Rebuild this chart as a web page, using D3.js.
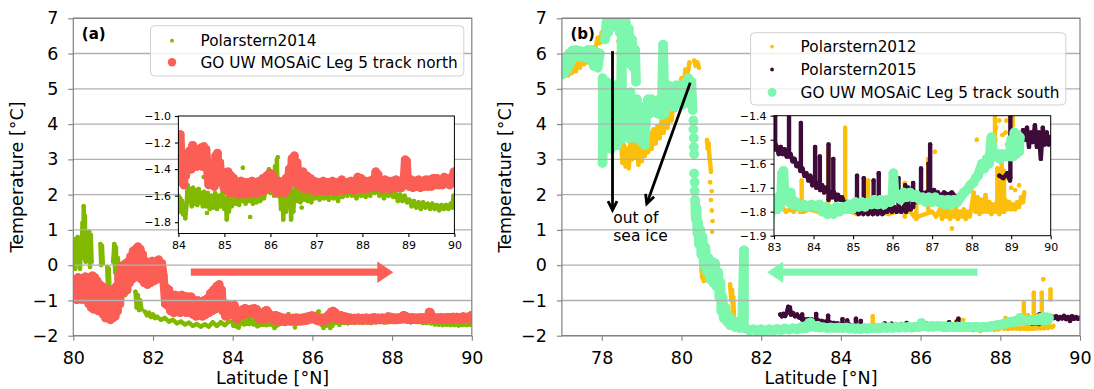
<!DOCTYPE html>
<html>
<head>
<meta charset="utf-8">
<script src="https://cdn.jsdelivr.net/npm/d3@7"></script>
<style>
  body { margin: 0; background: #fff; }
  svg { display: block; }
  text { font-family: "DejaVu Sans", sans-serif; fill: #000; }
</style>
</head>
<body>
<svg id="chart" width="1094" height="389"></svg>
<script>
// ---------- data: [latitude °N, temperature °C]; null breaks a track ----------
const polarstern2014 = [
  [80.01,0.1],[80.03,0.6],[80.05,-0.1],[80.07,0.75],[80.09,0.15],[80.11,0.8],[80.13,0.2],[80.15,0.55],[80.17,-0.1],[80.19,0.7],[80.21,0.3],[80.23,1.2],[80.25,0.2],[80.26,1.67],[80.28,0.5],[80.29,1.4],[80.31,0.1],[80.33,0.7],
  null,[80.38,0.2],[80.4,0.95],[80.42,-0.05],[80.44,0.85],[80.46,0.1],
  null,[80.68,0.6],[80.7,0.0],[80.72,0.55],[80.74,0.05],
  null,[80.85,-0.05],[80.87,-0.65],[80.89,-0.1],[80.91,-0.7],
  null,[81.0,0.1],[81.03,0.6],[81.05,-0.2],[81.07,0.5],[81.09,-0.4],[81.12,0.2],[81.15,-0.45],
  null,[81.21,-0.45],[81.24,-0.8],[81.27,-0.5],[81.3,-0.85],
  null,[81.56,-0.75],[81.59,-1.2],[81.62,-0.85],[81.65,-1.27],[81.68,-1.0],[81.71,-1.25],
  null,[81.8,-1.32],[81.85,-1.42],[81.9,-1.35],[81.95,-1.47],[82.0,-1.4],[82.05,-1.5],[82.1,-1.46],[82.2,-1.55],[82.3,-1.5],[82.4,-1.6],[82.5,-1.55],[82.6,-1.65],[82.7,-1.6],[82.8,-1.68],[82.9,-1.63],[83.0,-1.72],[83.1,-1.67],[83.2,-1.74],[83.3,-1.68],[83.4,-1.74],[83.5,-1.62],[83.6,-1.72],[83.7,-1.62],[83.8,-1.7],[83.9,-1.6],
  [84.0,-1.6],[84.02,-1.72],[84.04,-1.62],[84.06,-1.7],[84.08,-1.64],[84.1,-1.74],[84.13,-1.68],[84.15,-1.77],[84.18,-1.66],
  [84.2,-1.52],[84.23,-1.64],[84.26,-1.55],[84.29,-1.68],[84.32,-1.54],[84.35,-1.66],[84.38,-1.56],[84.41,-1.67],[84.44,-1.55],[84.47,-1.65],[84.5,-1.58],[84.53,-1.68],
  [84.56,-1.57],[84.6,-1.68],[84.64,-1.58],[84.68,-1.7],[84.72,-1.6],[84.76,-1.69],[84.8,-1.58],[84.84,-1.7],[84.88,-1.6],[84.92,-1.68],[84.96,-1.57],[85.0,-1.7],
  [85.03,-1.62],[85.05,-1.78],[85.07,-1.64],[85.1,-1.72],
  [85.13,-1.58],[85.16,-1.68],[85.2,-1.57],[85.24,-1.66],[85.28,-1.56],[85.32,-1.67],[85.35,-1.58],
  [85.38,-1.64],[85.42,-1.55],[85.46,-1.66],[85.5,-1.56],[85.54,-1.64],[85.58,-1.55],[85.62,-1.66],[85.66,-1.57],[85.7,-1.65],[85.74,-1.56],[85.78,-1.64],[85.82,-1.54],[85.86,-1.62],[85.9,-1.55],
  [85.95,-1.45],[85.97,-1.4],[86.0,-1.58],[86.04,-1.5],[86.08,-1.6],[86.1,-1.38],[86.12,-1.56],[86.14,-1.33],[86.16,-1.6],
  [86.2,-1.5],[86.23,-1.7],[86.26,-1.55],[86.28,-1.78],[86.31,-1.58],[86.34,-1.72],[86.37,-1.52],[86.4,-1.68],[86.43,-1.56],[86.45,-1.78],[86.48,-1.6],[86.5,-1.72],
  [86.53,-1.5],[86.57,-1.64],[86.61,-1.52],[86.65,-1.65],[86.69,-1.49],[86.73,-1.63],[86.77,-1.5],[86.81,-1.64],[86.85,-1.52],[86.89,-1.65],[86.93,-1.55],
  [86.97,-1.62],[87.02,-1.56],[87.07,-1.63],[87.12,-1.57],[87.17,-1.62],[87.22,-1.56],[87.27,-1.63],[87.32,-1.57],[87.37,-1.62],[87.42,-1.56],[87.47,-1.64],
  [87.52,-1.55],[87.57,-1.61],[87.62,-1.54],[87.67,-1.6],[87.72,-1.53],[87.77,-1.6],[87.82,-1.55],[87.87,-1.62],[87.92,-1.54],[87.97,-1.6],[88.02,-1.55],[88.07,-1.61],[88.12,-1.54],[88.17,-1.6],[88.22,-1.54],
  [88.27,-1.58],[88.32,-1.52],[88.37,-1.6],[88.42,-1.53],[88.47,-1.62],[88.52,-1.55],[88.57,-1.6],[88.62,-1.52],[88.67,-1.61],
  [88.72,-1.58],[88.77,-1.64],[88.82,-1.59],[88.87,-1.64],[88.92,-1.6],[88.97,-1.65],
  [89.02,-1.63],[89.07,-1.68],[89.12,-1.64],[89.17,-1.69],[89.22,-1.65],[89.27,-1.7],[89.32,-1.65],[89.37,-1.69],[89.42,-1.66],[89.47,-1.7],[89.52,-1.66],[89.57,-1.7],[89.62,-1.67],[89.67,-1.71],
  [89.72,-1.67],[89.77,-1.7],[89.82,-1.67],[89.87,-1.7],[89.92,-1.66],[89.96,-1.69],[89.98,-1.6],[90.0,-1.64],
  null,[85.4,-1.39],null,[85.56,-1.76],null,[86.16,-1.31],null,[86.68,-1.69],null,[84.55,-1.46],null,[84.62,-1.73]
];

const mosaicNorth = [
  [80.0,-0.45],[80.03,-0.95],[80.06,-0.4],[80.09,-0.98],[80.12,-0.35],[80.15,-0.92],[80.18,-0.4],[80.21,-0.97],[80.24,-0.38],[80.27,-0.9],[80.3,-0.33],[80.33,-1.0],[80.36,-0.35],[80.39,-1.1],[80.42,-0.4],[80.45,-1.2],[80.48,-0.3],[80.51,-1.25],[80.54,-0.35],[80.57,-1.15],[80.6,-0.45],[80.63,-1.3],[80.66,-0.55],[80.69,-1.2],[80.72,-0.6],
  [80.75,-1.4],[80.78,-0.65],[80.81,-1.5],[80.84,-0.7],[80.87,-1.45],[80.9,-0.75],[80.93,-1.55],[80.96,-0.7],[80.99,-1.5],[81.02,-0.8],[81.05,-1.45],[81.08,-0.6],[81.11,-1.3],[81.14,-0.3],[81.17,-1.1],
  [81.2,-0.05],[81.23,-0.8],[81.26,0.0],[81.29,-0.75],[81.32,0.05],[81.35,-0.7],[81.38,0.1],
  [81.41,-0.5],[81.44,0.25],[81.47,-0.4],[81.5,0.4],[81.53,-0.35],[81.56,0.45],[81.59,-0.2],[81.62,0.52],[81.65,-0.3],[81.68,0.45],[81.71,-0.4],[81.74,0.3],
  [81.78,-0.5],[81.82,0.1],[81.86,-0.55],[81.9,0.05],[81.94,-0.5],[81.98,0.12],[82.02,-0.45],[82.06,0.05],[82.1,-0.4],[82.14,0.15],[82.18,-0.35],[82.22,0.05],[82.26,-0.3],
  [82.28,-0.6],[82.31,-1.1],[82.34,-0.65],[82.37,-1.15],[82.4,-0.7],
  [82.44,-1.3],[82.48,-0.85],[82.52,-1.35],[82.56,-0.85],[82.6,-1.3],[82.64,-0.9],[82.68,-1.35],[82.72,-0.85],[82.76,-1.3],[82.8,-0.88],[82.84,-1.35],[82.88,-0.9],[82.92,-1.32],[82.96,-0.9],
  [83.0,-1.4],[83.04,-1.0],[83.08,-1.45],[83.12,-1.0],[83.16,-1.42],[83.2,-1.05],[83.24,-1.45],[83.28,-1.0],[83.32,-1.4],
  [83.36,-0.95],[83.4,-1.35],[83.44,-0.8],[83.48,-1.3],[83.52,-0.7],[83.56,-1.25],[83.6,-0.6],[83.63,-1.15],[83.66,-0.55],[83.69,-1.2],[83.72,-0.7],[83.75,-1.3],
  [83.78,-1.08],[83.82,-1.45],[83.86,-1.1],[83.9,-1.42],[83.94,-1.15],[83.98,-1.4],
  [84.0,-1.15],[84.02,-1.35],[84.04,-1.14],[84.06,-1.3],
  [84.08,-1.5],[84.1,-1.28],[84.12,-1.52],[84.14,-1.3],[84.16,-1.45],
  [84.19,-1.3],[84.22,-1.38],[84.25,-1.26],[84.28,-1.4],[84.31,-1.22],[84.34,-1.37],[84.37,-1.25],[84.4,-1.38],[84.43,-1.27],[84.46,-1.36],[84.49,-1.24],[84.52,-1.38],[84.55,-1.23],[84.58,-1.32],[84.6,-1.25],
  [84.63,-1.4],[84.66,-1.52],[84.69,-1.38],[84.72,-1.5],[84.75,-1.42],[84.78,-1.53],
  [84.81,-1.3],[84.83,-1.46],[84.85,-1.28],[84.87,-1.48],[84.9,-1.35],
  [84.93,-1.5],[84.96,-1.42],[84.99,-1.54],[85.02,-1.45],[85.05,-1.56],
  [85.08,-1.42],[85.11,-1.58],[85.14,-1.45],[85.17,-1.57],[85.2,-1.47],
  [85.24,-1.58],[85.28,-1.5],[85.32,-1.59],[85.36,-1.49],[85.4,-1.58],[85.44,-1.5],[85.48,-1.59],[85.52,-1.5],[85.56,-1.57],[85.6,-1.49],[85.64,-1.58],[85.68,-1.5],[85.72,-1.58],[85.76,-1.49],[85.8,-1.57],[85.84,-1.47],[85.88,-1.56],
  [85.92,-1.45],[85.95,-1.53],[85.98,-1.43],[86.01,-1.52],[86.04,-1.44],[86.07,-1.55],
  [86.1,-1.5],[86.14,-1.58],[86.18,-1.49],[86.22,-1.57],[86.26,-1.5],[86.3,-1.58],[86.34,-1.47],
  [86.38,-1.55],[86.41,-1.4],[86.44,-1.5],[86.47,-1.32],[86.5,-1.45],[86.52,-1.3],[86.55,-1.48],[86.58,-1.35],[86.61,-1.52],[86.64,-1.42],
  [86.67,-1.53],[86.71,-1.42],[86.75,-1.55],[86.79,-1.45],[86.83,-1.54],[86.87,-1.47],[86.91,-1.56],
  [86.95,-1.49],[87.0,-1.57],[87.05,-1.5],[87.1,-1.56],[87.15,-1.49],[87.2,-1.57],[87.25,-1.5],[87.3,-1.56],[87.35,-1.49],[87.4,-1.57],[87.45,-1.5],[87.5,-1.56],[87.55,-1.48],[87.6,-1.56],[87.65,-1.5],[87.7,-1.55],[87.75,-1.49],[87.8,-1.56],[87.85,-1.5],
  [87.9,-1.46],[87.94,-1.55],[87.97,-1.47],
  [88.02,-1.55],[88.06,-1.49],[88.1,-1.55],[88.14,-1.49],[88.18,-1.54],[88.22,-1.48],[88.26,-1.53],[88.29,-1.42],[88.31,-1.5],[88.34,-1.44],[88.37,-1.54],[88.41,-1.49],[88.45,-1.55],[88.49,-1.48],[88.53,-1.54],[88.57,-1.49],[88.61,-1.55],[88.65,-1.49],[88.69,-1.53],[88.73,-1.48],[88.77,-1.54],[88.81,-1.49],[88.85,-1.54],[88.89,-1.48],
  [88.91,-1.45],[88.93,-1.33],[88.95,-1.47],[88.96,-1.34],[88.98,-1.48],
  [89.02,-1.53],[89.06,-1.48],[89.1,-1.54],[89.14,-1.49],[89.18,-1.53],[89.22,-1.48],[89.26,-1.54],[89.3,-1.49],[89.34,-1.53],[89.38,-1.48],[89.42,-1.53],[89.46,-1.48],[89.5,-1.53],[89.54,-1.47],[89.58,-1.52],[89.62,-1.47],[89.66,-1.52],
  [89.7,-1.48],[89.74,-1.52],[89.78,-1.46],[89.82,-1.51],[89.86,-1.47],[89.9,-1.52],[89.94,-1.46],[89.97,-1.5],[89.99,-1.42],[90.0,-1.48]
];

const polarstern2012 = [
  [77.0,5.45],[77.04,5.7],[77.08,5.4],[77.12,5.65],[77.16,5.38],[77.2,5.6],[77.25,5.45],[77.3,5.7],[77.35,5.5],[77.4,5.8],[77.45,5.6],[77.5,5.9],[77.55,5.7],[77.6,5.95],[77.65,5.75],[77.7,6.0],[77.75,5.8],[77.8,6.05],[77.85,6.2],[77.9,6.45],[77.95,6.3],[78.0,6.6],[78.05,6.5],[78.1,6.75],[78.15,6.6],[78.2,6.85],[78.25,6.7],[78.3,6.9],[78.35,6.75],[78.4,6.85],[78.45,6.7],
  null,[78.42,6.35],null,[78.42,6.0],null,[78.43,5.7],null,[78.43,5.4],null,[78.44,5.1],null,
  [78.48,3.5],[78.52,2.9],[78.56,3.4],[78.6,2.8],[78.64,3.3],[78.68,2.75],[78.72,3.45],[78.76,3.0],[78.8,3.6],[78.84,3.05],[78.88,3.4],[78.92,2.85],[78.96,3.5],[79.0,2.95],[79.04,3.55],[79.08,3.1],[79.12,3.7],[79.16,3.2],[79.2,3.75],[79.25,3.3],[79.3,3.85],[79.35,3.45],[79.4,3.95],[79.45,3.6],[79.5,4.1],[79.55,3.75],[79.6,4.2],[79.65,3.9],[79.7,4.3],[79.75,4.1],[79.8,4.6],[79.85,4.4],[79.9,4.95],[79.95,4.7],[80.0,5.3],[80.05,5.1],[80.1,5.55],[80.15,5.4],[80.2,5.75],
  null,[80.32,5.8],[80.36,5.65],[80.4,5.75],[80.44,5.6],
  null,[80.64,3.55],[80.66,3.3],[80.68,3.45],[80.7,3.1],[80.72,2.9],[80.74,2.65],
  null,[80.72,2.35],null,[80.76,2.1],null,[80.74,1.85],null,[80.76,1.55],null,[80.78,1.25],null,[80.77,0.95],
  null,[80.5,-0.1],[80.52,-0.35],[80.54,-0.2],[80.56,-0.45],
  null,[81.22,-0.55],[81.25,-1.0],[81.27,-0.7],[81.29,-1.3],[81.3,-0.9],[81.32,-1.5],
  null,[81.5,-1.75],[81.7,-1.8],[81.9,-1.78],[82.1,-1.82],[82.3,-1.79],[82.5,-1.8],[82.7,-1.78],[82.9,-1.8],
  [83.0,-1.79],[83.1,-1.8],[83.2,-1.78],[83.3,-1.8],[83.4,-1.79],[83.5,-1.8],[83.6,-1.78],[83.66,-1.8],
  [83.75,-1.8],[83.9,-1.79],[84.1,-1.8],[84.3,-1.79],[84.5,-1.8],[84.65,-1.79],[84.95,-1.8],[85.1,-1.81],[85.25,-1.8],[85.5,-1.81],[85.7,-1.8],[85.9,-1.81],[86.1,-1.8],[86.45,-1.8],[86.55,-1.82],[86.65,-1.82],[87.0,-1.8],[87.1,-1.82],
  [87.2,-1.79],[87.25,-1.83],[87.3,-1.78],[87.35,-1.82],[87.4,-1.79],[87.45,-1.83],[87.5,-1.8],[87.55,-1.82],[87.6,-1.78],[87.65,-1.83],[87.7,-1.8],[87.75,-1.82],[87.8,-1.79],[87.85,-1.83],[87.9,-1.8],[87.95,-1.82],
  [88.0,-1.78],[88.05,-1.72],[88.1,-1.8],[88.15,-1.74],[88.2,-1.81],[88.25,-1.75],[88.3,-1.8],[88.35,-1.73],
  [88.4,-1.8],[88.45,-1.76],[88.5,-1.81],[88.55,-1.77],[88.6,-1.8],[88.65,-1.75],[88.7,-1.81],[88.75,-1.76],[88.8,-1.8],[88.85,-1.75],[88.9,-1.79],[88.95,-1.76],[89.0,-1.79],[89.05,-1.77],[89.1,-1.79],[89.15,-1.76],[89.2,-1.78],[89.25,-1.74],[89.3,-1.76],[89.33,-1.72],
  null,[83.7,-1.67],[83.7,-1.79],null,[84.37,-1.54],[84.37,-1.79],null,[84.8,-1.45],[84.8,-1.79],null,[85.38,-1.67],[85.38,-1.8],
  null,[86.31,-1.68],[86.31,-1.82],null,[86.6,-1.72],[86.6,-1.83],null,[86.9,-1.58],[86.9,-1.79],
  null,[88.65,-1.62],[88.65,-1.8],null,[88.76,-1.6],[88.76,-1.78],null,[88.82,-1.63],[88.82,-1.8],
  null,[88.59,-1.07],[88.59,-1.54],null,[88.84,-0.78],[88.84,-1.35],null,[89.04,-0.78],[89.04,-1.44],null,[89.26,-0.69],[89.26,-0.97],
  null,[89.08,-0.4],null,[87.07,-1.55],null,[87.5,-1.87],null,[88.13,-1.5],
  null,[88.88,-1.42],null,[88.86,-1.47],null,[88.9,-1.52],null,[88.85,-1.58],null,[88.88,-1.64],null,[88.62,-1.45],null,[88.7,-1.42],null,[88.78,-1.48],null,[88.6,-1.5],null,[88.92,-1.66],null,[89.0,-1.7],null,[89.1,-1.71],null,[89.2,-1.69]
];

const polarstern2015 = [
  [82.48,-1.4],[82.52,-1.45],[82.56,-1.38],[82.6,-1.44],[82.64,-1.36],[82.68,-1.18],[82.7,-1.3],[82.72,-1.2],[82.75,-1.4],[82.8,-1.36],[82.85,-1.45],[82.9,-1.4],[82.95,-1.48],[83.0,-1.5],
  [83.07,-1.53],[83.12,-1.56],[83.17,-1.53],[83.22,-1.56],[83.27,-1.54],[83.32,-1.57],
  [83.42,-1.56],[83.47,-1.59],[83.52,-1.58],[83.57,-1.61],[83.62,-1.6],[83.67,-1.63],[83.72,-1.62],[83.77,-1.65],[83.82,-1.64],
  [83.87,-1.67],[83.92,-1.65],[83.97,-1.69],[84.02,-1.67],[84.07,-1.7],[84.12,-1.68],[84.17,-1.71],[84.22,-1.69],[84.27,-1.72],[84.32,-1.7],
  [84.42,-1.72],[84.47,-1.74],[84.52,-1.72],[84.57,-1.75],[84.62,-1.73],[84.67,-1.75],[84.72,-1.74],
  [84.77,-1.76],[84.82,-1.78],[84.87,-1.76],[84.92,-1.79],[84.97,-1.77],
  [85.02,-1.8],[85.08,-1.78],[85.14,-1.81],[85.2,-1.79],[85.26,-1.81],[85.32,-1.79],[85.38,-1.81],[85.44,-1.79],[85.5,-1.81],[85.56,-1.79],[85.62,-1.81],[85.68,-1.79],[85.74,-1.81],[85.8,-1.8],[85.86,-1.8],
  [85.92,-1.78],[85.98,-1.8],[86.04,-1.78],[86.1,-1.8],[86.16,-1.78],[86.22,-1.8],[86.28,-1.78],[86.34,-1.8],[86.4,-1.78],[86.46,-1.79],[86.52,-1.77],
  [86.55,-1.72],[86.6,-1.76],[86.65,-1.73],[86.7,-1.75],
  [86.75,-1.72],[86.8,-1.74],[86.85,-1.72],[86.9,-1.74],[86.95,-1.72],[87.0,-1.73],[87.05,-1.71],[87.1,-1.73],[87.15,-1.72],[87.2,-1.74],[87.3,-1.72],[87.4,-1.73],[87.5,-1.72],[87.6,-1.74],[87.7,-1.73],
  null,[88.7,-1.65],[88.8,-1.66],[88.9,-1.64],[88.97,-1.67],
  null,[89.05,-1.52],[89.1,-1.47],[89.15,-1.54],[89.2,-1.48],[89.25,-1.52],[89.3,-1.46],[89.35,-1.5],[89.4,-1.45],[89.45,-1.53],[89.5,-1.47],[89.55,-1.51],[89.6,-1.44],[89.65,-1.53],[89.7,-1.47],[89.75,-1.58],[89.8,-1.45],[89.85,-1.52],[89.9,-1.47],[89.95,-1.52],[90.0,-1.49],
  null,[83.03,-1.4],[83.03,-1.54],null,[83.38,-1.38],[83.38,-1.57],null,[83.68,-1.43],[83.68,-1.63],null,[84.04,-1.53],[84.04,-1.67],null,[84.16,-1.57],[84.16,-1.7],
  null,[84.38,-1.52],[84.38,-1.75],null,[84.5,-1.58],[84.5,-1.73],null,[85.1,-1.65],[85.1,-1.8],null,[85.27,-1.66],[85.27,-1.8],null,[85.52,-1.67],[85.52,-1.8],null,[85.65,-1.64],[85.65,-1.8],
  null,[86.15,-1.66],[86.15,-1.78],null,[86.32,-1.69],[86.32,-1.79],null,[86.4,-1.7],[86.4,-1.79],null,[86.52,-1.68],[86.52,-1.78],
  null,[86.72,-1.62],[86.72,-1.75],null,[86.95,-1.52],[86.95,-1.74],null,[86.91,-1.6],[86.91,-1.73],null,[88.98,-1.4],[88.98,-1.66]
];

const mosaicSouth = [
  [77.0,5.4],[77.03,5.85],[77.06,5.45],[77.1,5.9],[77.14,5.55],[77.18,6.0],[77.22,5.75],[77.26,6.08],[77.3,5.9],[77.35,6.1],[77.4,5.92],[77.45,6.08],[77.5,5.9],[77.55,6.05],[77.6,5.88],[77.65,6.1],[77.7,5.85],[77.75,6.1],[77.8,5.65],[77.85,6.05],[77.9,5.6],[77.95,6.0],
  null,[78.02,5.3],[78.03,4.2],[78.02,2.9],[78.04,3.6],[78.05,5.0],
  null,[78.08,6.4],[78.12,6.9],[78.16,6.6],[78.2,7.05],[78.25,6.75],[78.3,7.1],[78.35,6.8],[78.4,7.05],[78.45,6.6],[78.5,7.0],[78.55,6.5],[78.6,6.9],[78.64,6.1],[78.68,6.7],[78.72,5.7],[78.76,6.4],[78.8,5.6],[78.84,6.1],[78.86,5.2],
  null,[78.12,5.2],[78.15,3.4],[78.19,4.9],[78.23,3.3],[78.27,4.6],[78.31,3.6],[78.35,5.1],[78.39,3.4],[78.43,4.8],[78.47,3.7],[78.5,6.5],[78.52,3.6],[78.56,4.9],[78.6,3.8],[78.64,4.6],[78.68,3.6],[78.72,4.9],[78.76,3.9],[78.8,4.6],[78.84,3.6],[78.88,4.7],[78.92,3.8],[78.96,4.5],[79.0,3.5],[79.04,4.4],[79.08,3.4],[79.12,4.3],[79.16,4.7],[79.2,4.3],[79.25,4.7],[79.3,4.35],[79.35,4.65],[79.4,4.3],[79.45,4.7],[79.5,4.25],[79.54,6.25],[79.58,4.3],[79.62,4.55],[79.67,5.1],[79.72,4.55],[79.77,5.0],[79.82,4.5],[79.87,5.1],[79.92,4.6],[79.97,5.05],[80.02,4.55],[80.07,5.15],[80.12,4.6],[80.17,5.3],[80.21,4.7],[80.25,5.2],[80.28,4.4],
  null,[80.3,4.1],null,[80.3,3.85],null,[80.31,3.6],null,[80.31,3.35],null,[80.32,3.15],null,[80.32,2.6],null,[80.33,2.35],null,[80.33,2.1],
  null,[80.34,1.85],[80.36,1.3],[80.38,1.6],[80.4,0.9],[80.42,1.2],[80.44,0.6],[80.47,1.0],[80.5,0.3],[80.53,0.8],[80.56,0.0],[80.6,0.5],[80.64,-0.2],[80.68,0.2],[80.72,-0.4],[80.76,0.1],[80.8,-0.5],[80.84,0.05],[80.88,-0.6],[80.92,-0.2],[80.95,-0.9],[80.98,-0.5],[81.0,-1.3],[81.03,-0.9],[81.06,-1.5],[81.1,-1.2],[81.14,-1.6],[81.18,-1.45],[81.22,-1.7],[81.28,-1.55],[81.34,-1.75],[81.4,-1.62],[81.46,-1.78],[81.52,-1.7],
  [81.57,0.42],[81.57,-1.78],
  [81.62,-1.8],[81.7,-1.85],[81.8,-1.82],[81.9,-1.86],[82.0,-1.82],[82.1,-1.86],[82.2,-1.82],[82.3,-1.85],[82.4,-1.81],[82.5,-1.84],[82.6,-1.8],[82.7,-1.83],[82.8,-1.79],[82.9,-1.82],
  [83.0,-1.76],[83.05,-1.79],[83.1,-1.74],[83.14,-1.78],[83.18,-1.74],[83.2,-1.64],[83.24,-1.63],[83.27,-1.74],
  [83.32,-1.72],[83.37,-1.76],[83.42,-1.72],[83.47,-1.77],[83.55,-1.76],[83.65,-1.78],[83.75,-1.77],[83.85,-1.78],[83.95,-1.77],[84.05,-1.78],[84.15,-1.77],
  [84.22,-1.8],[84.3,-1.78],[84.36,-1.81],[84.42,-1.79],
  [84.5,-1.81],[84.58,-1.78],[84.66,-1.8],[84.74,-1.78],[84.82,-1.79],[84.9,-1.77],[84.98,-1.79],
  [85.06,-1.76],[85.14,-1.78],[85.22,-1.76],[85.3,-1.78],[85.38,-1.76],[85.46,-1.77],[85.54,-1.75],[85.62,-1.77],[85.7,-1.75],[85.78,-1.77],[85.86,-1.75],[85.94,-1.76],
  [86.0,-1.74],[86.02,-1.64],[86.05,-1.73],
  [86.12,-1.73],[86.2,-1.75],[86.28,-1.72],[86.36,-1.74],[86.44,-1.72],[86.52,-1.74],[86.6,-1.73],[86.68,-1.75],
  [86.76,-1.74],[86.84,-1.76],[86.92,-1.74],[87.0,-1.76],[87.08,-1.74],[87.16,-1.76],[87.24,-1.75],[87.32,-1.77],[87.4,-1.75],[87.48,-1.77],[87.56,-1.75],[87.64,-1.76],
  [87.72,-1.74],[87.8,-1.72],[87.88,-1.71],[87.96,-1.69],[88.04,-1.68],[88.1,-1.66],[88.16,-1.65],[88.2,-1.63],
  [88.26,-1.6],[88.32,-1.62],[88.38,-1.58],[88.44,-1.6],
  [88.48,-1.52],[88.5,-1.49],[88.53,-1.56],
  [88.6,-1.57],[88.66,-1.56],[88.72,-1.58],[88.78,-1.56],[88.84,-1.57],[88.9,-1.56],[88.96,-1.57],
  [89.0,-1.5],[89.04,-1.57],[89.08,-1.47],[89.12,-1.56],[89.16,-1.48],[89.2,-1.55],[89.22,-1.49]
];

// ---------- axis ticks ----------
const tempTicks = [-2, -1, 0, 1, 2, 3, 4, 5, 6, 7];
const latTicksA = [80, 82, 84, 86, 88, 90];
const latTicksB = [78, 80, 82, 84, 86, 88, 90];
const insetLatTicksA = [84, 85, 86, 87, 88, 89, 90];
const insetTempTicksA = [-1.8, -1.6, -1.4, -1.2, -1.0];
const insetLatTicksB = [83, 84, 85, 86, 87, 88, 89, 90];
const insetTempTicksB = [-1.9, -1.8, -1.7, -1.6, -1.5, -1.4];

// series styles
const COLORS = {
  ps2014: "#80b900", north: "#fb5e55",
  ps2012: "#fbbf0c", ps2015: "#3e0b3a", south: "#7df6ae"
};

const svg = d3.select("#chart");
const defs = svg.append("defs");
let clipCount = 0;

function makeClip(x0, y0, w, h) {
  const id = "clip" + (clipCount++);
  defs.append("clipPath").attr("id", id)
    .append("rect").attr("x", x0).attr("y", y0).attr("width", w).attr("height", h);
  return "url(#" + id + ")";
}

// draw one scatter track: consecutive samples are joined, every sample gets a marker
function drawTrack(g, data, x, y, color, r) {
  const line = d3.line().defined(d => d !== null).x(d => x(d[0])).y(d => y(d[1]));
  g.append("path").attr("d", line(data))
    .attr("fill", "none").attr("stroke", color).attr("stroke-width", 2 * r)
    .attr("stroke-linecap", "round").attr("stroke-linejoin", "round");
  g.selectAll(null).data(data.filter(d => d !== null)).enter().append("circle")
    .attr("cx", d => x(d[0])).attr("cy", d => y(d[1])).attr("r", r).attr("fill", color);
}

function styleAxis(sel, fontSize, color) {
  sel.select(".domain").remove();
  sel.selectAll(".tick line").attr("stroke", color).attr("stroke-width", 1.1);
  sel.selectAll(".tick text").attr("fill", "#000").style("font-size", fontSize + "px")
    .style("font-family", '"DejaVu Sans", sans-serif');
}

function mainPanel(o) {
  const x = d3.scaleLinear().domain(o.latDomain).range([o.left, o.right]);
  const y = d3.scaleLinear().domain([-2, 7]).range([o.bottom, o.top]);
  const g = svg.append("g");
  const clip = makeClip(o.left, o.top, o.right - o.left, o.bottom - o.top);
  const dataG = g.append("g").attr("clip-path", clip);
  o.series.forEach(s => drawTrack(dataG, s.data, x, y, s.color, s.r));

  // horizontal grid, drawn above the markers
  g.append("g").selectAll("line").data(tempTicks).enter().append("line")
    .attr("x1", o.left).attr("x2", o.right)
    .attr("y1", d => y(d)).attr("y2", d => y(d))
    .attr("stroke", "#b0b0b0").attr("stroke-width", 1.4);

  const spine = "#808080";
  g.append("rect").attr("x", o.left).attr("y", o.top)
    .attr("width", o.right - o.left).attr("height", o.bottom - o.top)
    .attr("fill", "none").attr("stroke", spine).attr("stroke-width", 1.2);

  g.append("g").attr("transform", `translate(0,${o.bottom})`)
    .call(d3.axisBottom(x).tickValues(o.latTicks).tickSize(5).tickPadding(11).tickFormat(d3.format("d")))
    .call(s => styleAxis(s, 17.5, spine));
  g.append("g").attr("transform", `translate(${o.left},0)`)
    .call(d3.axisLeft(y).tickValues(tempTicks).tickSize(5).tickPadding(10).tickFormat(d3.format("d")))
    .call(s => styleAxis(s, 17.5, spine));

  g.append("text").attr("x", (o.left + o.right) / 2).attr("y", 384)
    .attr("text-anchor", "middle").style("font-size", "17.5px").text("Latitude [°N]");
  g.append("text").attr("transform", `translate(${o.left - 50.5},${(o.top + o.bottom) / 2}) rotate(-90)`)
    .attr("text-anchor", "middle").style("font-size", "17.5px").text("Temperature [°C]");
  g.append("text").attr("x", o.left + 8.5).attr("y", o.top + 21)
    .style("font-size", "15px").style("font-weight", "bold").text(o.tag);
  return { x, y, g };
}

function insetPanel(o) {
  const x = d3.scaleLinear().domain(o.latDomain).range([o.left, o.right]);
  const y = d3.scaleLinear().domain(o.tempDomain).range([o.bottom, o.top]);
  const g = svg.append("g");
  g.append("rect").attr("x", o.left).attr("y", o.top)
    .attr("width", o.right - o.left).attr("height", o.bottom - o.top).attr("fill", "#fff");
  const clip = makeClip(o.left, o.top, o.right - o.left, o.bottom - o.top);
  const dataG = g.append("g").attr("clip-path", clip);
  o.series.forEach(s => drawTrack(dataG, s.data, x, y, s.color, s.r));
  g.append("rect").attr("x", o.left).attr("y", o.top)
    .attr("width", o.right - o.left).attr("height", o.bottom - o.top)
    .attr("fill", "none").attr("stroke", "#000").attr("stroke-width", 1);
  g.append("g").attr("transform", `translate(0,${o.bottom})`)
    .call(d3.axisBottom(x).tickValues(o.latTicks).tickSize(3.5).tickPadding(4.5).tickFormat(d3.format("d")))
    .call(s => styleAxis(s, 11, "#000"));
  g.append("g").attr("transform", `translate(${o.left},0)`)
    .call(d3.axisLeft(y).tickValues(o.tempTicks).tickSize(3.5).tickPadding(4).tickFormat(d3.format(".1f")))
    .call(s => styleAxis(s, 11, "#000"));
}

function legend(o) {
  const g = svg.append("g");
  g.append("rect").attr("x", o.x).attr("y", o.y).attr("width", o.w).attr("height", o.h)
    .attr("rx", 4).attr("fill", "#fff").attr("fill-opacity", 0.8)
    .attr("stroke", "#d0d0d0").attr("stroke-width", 1);
  o.items.forEach((it, i) => {
    const cy = o.y + o.first + i * o.step;
    g.append("circle").attr("cx", o.x + 21.5).attr("cy", cy).attr("r", it.r).attr("fill", it.color);
    g.append("text").attr("x", o.x + 50).attr("y", cy + 5.3)
      .style("font-size", "15.3px").text(it.label);
  });
}

// straight block arrow (shaft + triangular head) between two data points
function blockArrow(g, x, y, from, to, color) {
  const x0 = x(from[0]), y0 = y(from[1]), x1 = x(to[0]), y1 = y(to[1]);
  const len = Math.hypot(x1 - x0, y1 - y0), ux = (x1 - x0) / len, uy = (y1 - y0) / len;
  const px = -uy, py = ux, hw = 3.6, hl = 16, hh = 10.8;
  const bx = x1 - ux * hl, by = y1 - uy * hl;
  const pts = [
    [x0 + px * hw, y0 + py * hw], [bx + px * hw, by + py * hw], [bx + px * hh, by + py * hh],
    [x1, y1], [bx - px * hh, by - py * hh], [bx - px * hw, by - py * hw], [x0 - px * hw, y0 - py * hw]
  ];
  g.append("polygon").attr("points", pts.map(p => p.join(",")).join(" ")).attr("fill", color);
}

function lineArrow(g, x, y, from, to) {
  const x0 = x(from[0]), y0 = y(from[1]), x1 = x(to[0]), y1 = y(to[1]);
  const len = Math.hypot(x1 - x0, y1 - y0), ux = (x1 - x0) / len, uy = (y1 - y0) / len;
  const hl = 9, hw = 4.5;
  g.append("line").attr("x1", x0).attr("y1", y0).attr("x2", x1).attr("y2", y1)
    .attr("stroke", "#000").attr("stroke-width", 2.8);
  const a = [x1 - ux * hl - uy * hw, y1 - uy * hl + ux * hw];
  const b = [x1 - ux * hl + uy * hw, y1 - uy * hl - ux * hw];
  g.append("path").attr("d", `M${a[0]},${a[1]}L${x1},${y1}L${b[0]},${b[1]}`)
    .attr("fill", "none").attr("stroke", "#000").attr("stroke-width", 2.8)
    .attr("stroke-linejoin", "miter");
}

// ---------- panel (a) ----------
const seriesA = [
  { data: polarstern2014, color: COLORS.ps2014, r: 2.2, label: "Polarstern2014" },
  { data: mosaicNorth, color: COLORS.north, r: 4.3, label: "GO UW MOSAiC Leg 5 track north" }
];
const A = mainPanel({ left: 73.3, right: 471.8, top: 18.3, bottom: 335.7,
  latDomain: [80, 90], latTicks: latTicksA, series: seriesA, tag: "(a)" });
blockArrow(A.g, A.x, A.y, [82.95, -0.2], [88.03, -0.2], COLORS.north);
insetPanel({ left: 178.4, right: 454.4, top: 116, bottom: 233.5,
  latDomain: [84, 90], tempDomain: [-1.885, -1.0],
  latTicks: insetLatTicksA, tempTicks: insetTempTicksA, series: seriesA });
legend({ x: 150.5, y: 25.7, w: 313.3, h: 50.3, first: 15, step: 21.6,
  items: seriesA.map(s => ({ color: s.color, r: s.r === 2.2 ? 1.9 : 4.2, label: s.label })) });

// ---------- panel (b) ----------
const seriesB = [
  { data: polarstern2012, color: COLORS.ps2012, r: 2.2, label: "Polarstern2012" },
  { data: polarstern2015, color: COLORS.ps2015, r: 2.2, label: "Polarstern2015" },
  { data: mosaicSouth, color: COLORS.south, r: 4.8, label: "GO UW MOSAiC Leg 5 track south" }
];
const B = mainPanel({ left: 561.9, right: 1080, top: 18.3, bottom: 335.7,
  latDomain: [77, 90], latTicks: latTicksB, series: seriesB, tag: "(b)" });
blockArrow(B.g, B.x, B.y, [87.43, -0.2], [82.15, -0.2], COLORS.south);
lineArrow(B.g, B.x, B.y, [78.27, 6.07], [78.27, 1.56]);
lineArrow(B.g, B.x, B.y, [80.22, 5.17], [79.13, 1.74]);
B.g.append("text").attr("x", B.x(78.29)).attr("y", 223).style("font-size", "15.5px").text("out of");
B.g.append("text").attr("x", B.x(78.29)).attr("y", 241).style("font-size", "15.5px").text("sea ice");
insetPanel({ left: 774, right: 1050.7, top: 115.7, bottom: 235.7,
  latDomain: [83, 90], tempDomain: [-1.9, -1.4],
  latTicks: insetLatTicksB, tempTicks: insetTempTicksB, series: seriesB });
legend({ x: 750.6, y: 32.7, w: 315.2, h: 72.3, first: 14, step: 22.8,
  items: seriesB.map(s => ({ color: s.color, r: s.r === 2.2 ? 1.9 : 4.4, label: s.label })) });
</script>
</body>
</html>
